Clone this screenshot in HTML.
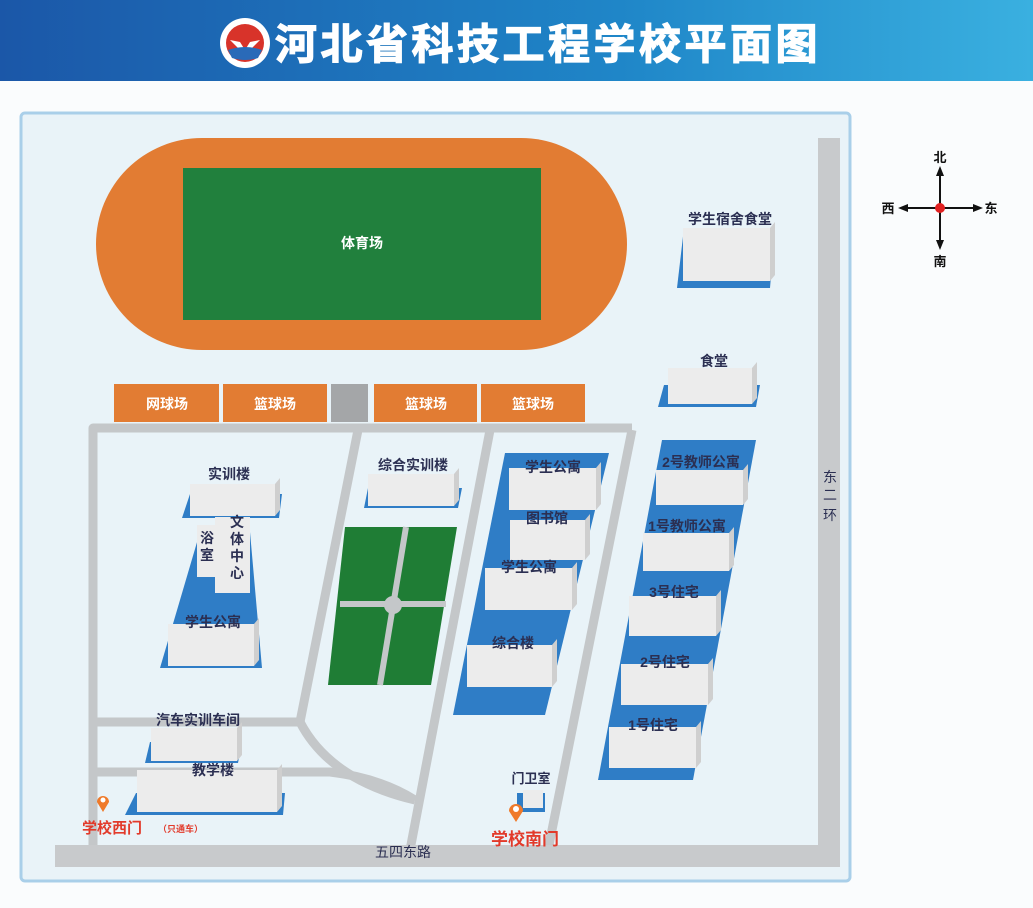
<!DOCTYPE html>
<html><head><meta charset="utf-8"><style>
html,body{margin:0;padding:0;background:#fafcfd;}
svg{display:block}
text{font-family:"Liberation Sans","Noto Sans CJK SC",sans-serif;font-weight:bold}
.l{fill:#2b2f52;font-size:14px}
.w{fill:#fff;font-size:14px}
</style></head><body>
<svg width="1033" height="908" viewBox="0 0 1033 908" xmlns="http://www.w3.org/2000/svg">
<defs>
<linearGradient id="hd" x1="0" x2="1" y1="0" y2="0">
<stop offset="0" stop-color="#1b57a8"/><stop offset="0.6" stop-color="#1f86c8"/><stop offset="1" stop-color="#3ab0e0"/>
</linearGradient>
</defs>
<rect width="1033" height="908" fill="#fafcfd"/>
<rect width="1033" height="81" fill="url(#hd)"/>
<circle cx="245" cy="43" r="25" fill="#fff"/>
<circle cx="245" cy="43" r="19" fill="#d8332a"/>
<path d="M230 40 L245 55 L260 40 L250 42 L245 50 L240 42Z" fill="#fff"/>
<path d="M228 50 Q245 44 262 50 L258 58 Q245 62 232 58Z" fill="#2a6ab8"/>
<text x="275" y="59" style="font-size:42px;fill:#fff;letter-spacing:3.5px" stroke="#fff" stroke-width="1.2">河北省科技工程学校平面图</text>

<rect x="21" y="113" width="829" height="768" rx="4" fill="#e9f3f8" stroke="#a9cfe9" stroke-width="3"/>

<!-- track -->
<rect x="96" y="138" width="531" height="212" rx="106" fill="#e27c33"/>
<rect x="183" y="168" width="358" height="152" fill="#21803d"/>
<text x="362" y="248" class="w" text-anchor="middle">体育场</text>

<!-- courts -->
<rect x="114" y="384" width="105" height="38" fill="#e27c33"/>
<rect x="223" y="384" width="104" height="38" fill="#e27c33"/>
<rect x="331" y="384" width="37" height="38" fill="#a4a6a8"/>
<rect x="374" y="384" width="103" height="38" fill="#e27c33"/>
<rect x="481" y="384" width="104" height="38" fill="#e27c33"/>
<text x="167" y="409" class="w" text-anchor="middle">网球场</text>
<text x="275" y="409" class="w" text-anchor="middle">篮球场</text>
<text x="426" y="409" class="w" text-anchor="middle">篮球场</text>
<text x="533" y="409" class="w" text-anchor="middle">篮球场</text>

<!-- roads -->
<g fill="none" stroke="#c4c7c9" stroke-width="9" stroke-linejoin="round">
<path d="M93 845 V428 H632"/>
<path d="M358 430 L300 722 H93"/>
<path d="M300 722 Q330 780 415 800"/>
<path d="M93 772 H330 Q380 778 415 800"/>
<path d="M490 430 L410 850"/>
<path d="M632 430 L548 850"/>
</g>
<rect x="55" y="845" width="785" height="22" fill="#c8cacc"/>
<rect x="818" y="138" width="22" height="729" fill="#c8cacc"/>
<text x="830" y="482" class="l" style="font-weight:normal" text-anchor="middle">东</text>
<text x="830" y="500" class="l" style="font-weight:normal" text-anchor="middle">二</text>
<text x="830" y="520" class="l" style="font-weight:normal" text-anchor="middle">环</text>
<text x="403" y="857" class="l" style="font-weight:normal" text-anchor="middle">五四东路</text>

<!-- green sports area -->
<polygon points="345,527 457,527 431,685 328,685" fill="#1f7d35"/>
<line x1="406" y1="527" x2="380" y2="685" stroke="#c4c7c9" stroke-width="6"/>
<line x1="340" y1="604" x2="446" y2="604" stroke="#c4c7c9" stroke-width="6"/>
<circle cx="393" cy="605" r="9" fill="#c4c7c9"/>

<!-- blue bases -->
<g fill="#2f7dc6">
<polygon points="190,494 282,494 279,518 182,518"/>
<polygon points="200,532 250,532 262,668 160,668"/>
<polygon points="150,742 242,742 238,763 145,763"/>
<polygon points="136,793 285,793 283,815 125,815"/>
<polygon points="368,488 462,488 458,508 364,508"/>
<polygon points="505,453 609,453 545,715 453,715"/>
<polygon points="662,440 756,440 693,780 598,780"/>
<polygon points="684,228 775,228 770,288 677,288"/>
<polygon points="664,385 760,385 756,407 658,407"/>
<polygon points="517,793 545,793 545,812 517,812"/>
</g>

<!-- buildings -->
<g fill="#ececec">
<rect x="190" y="484" width="85" height="32"/>
<rect x="215" y="517" width="35" height="76"/>
<rect x="197" y="525" width="18" height="52"/>
<rect x="168" y="624" width="86" height="42"/>
<rect x="151" y="728" width="86" height="33"/>
<rect x="137" y="770" width="140" height="42"/>
<rect x="368" y="474" width="86" height="32"/>
<rect x="509" y="468" width="87" height="42"/>
<rect x="510" y="520" width="75" height="40"/>
<rect x="485" y="568" width="87" height="42"/>
<rect x="467" y="645" width="85" height="42"/>
<rect x="656" y="470" width="87" height="35"/>
<rect x="643" y="533" width="86" height="38"/>
<rect x="629" y="596" width="87" height="40"/>
<rect x="621" y="664" width="87" height="41"/>
<rect x="609" y="727" width="87" height="41"/>
<rect x="683" y="228" width="87" height="53"/>
<rect x="668" y="368" width="84" height="36"/>
<rect x="523" y="790" width="20" height="18"/>
</g>
<g fill="#cfcfcf">
<polygon points="275,484 280,478 280,510 275,516"/>
<polygon points="254,624 259,618 259,660 254,666"/>
<polygon points="237,728 242,722 242,755 237,761"/>
<polygon points="277,770 282,764 282,806 277,812"/>
<polygon points="454,474 459,468 459,500 454,506"/>
<polygon points="596,468 601,462 601,504 596,510"/>
<polygon points="585,520 590,514 590,554 585,560"/>
<polygon points="572,568 577,562 577,604 572,610"/>
<polygon points="552,645 557,639 557,681 552,687"/>
<polygon points="743,470 748,464 748,499 743,505"/>
<polygon points="729,533 734,527 734,565 729,571"/>
<polygon points="716,596 721,590 721,630 716,636"/>
<polygon points="708,664 713,658 713,699 708,705"/>
<polygon points="696,727 701,721 701,762 696,768"/>
<polygon points="770,228 775,222 775,275 770,281"/>
<polygon points="752,368 757,362 757,398 752,404"/>
</g>

<!-- labels -->
<text x="229" y="479" class="l" text-anchor="middle">实训楼</text>
<text x="237" y="527" class="l" text-anchor="middle">文</text>
<text x="237" y="544" class="l" text-anchor="middle">体</text>
<text x="237" y="561" class="l" text-anchor="middle">中</text>
<text x="237" y="578" class="l" text-anchor="middle">心</text>
<text x="207" y="543" class="l" text-anchor="middle">浴</text>
<text x="207" y="560" class="l" text-anchor="middle">室</text>
<text x="213" y="627" class="l" text-anchor="middle">学生公寓</text>
<text x="198" y="725" class="l" text-anchor="middle">汽车实训车间</text>
<text x="213" y="775" class="l" text-anchor="middle">教学楼</text>
<text x="413" y="470" class="l" text-anchor="middle">综合实训楼</text>
<text x="553" y="472" class="l" text-anchor="middle">学生公寓</text>
<text x="547" y="523" class="l" text-anchor="middle">图书馆</text>
<text x="529" y="572" class="l" text-anchor="middle">学生公寓</text>
<text x="513" y="648" class="l" text-anchor="middle">综合楼</text>
<text x="701" y="467" class="l" text-anchor="middle">2号教师公寓</text>
<text x="687" y="531" class="l" text-anchor="middle">1号教师公寓</text>
<text x="674" y="597" class="l" text-anchor="middle">3号住宅</text>
<text x="665" y="667" class="l" text-anchor="middle">2号住宅</text>
<text x="653" y="730" class="l" text-anchor="middle">1号住宅</text>
<text x="730" y="224" class="l" text-anchor="middle">学生宿舍食堂</text>
<text x="714" y="366" class="l" text-anchor="middle">食堂</text>
<text x="531" y="783" class="l" text-anchor="middle" style="font-size:13px">门卫室</text>

<!-- pins -->
<path d="M103 812 L97 802 A6 6 0 1 1 109 802 Z" fill="#ef7a2a"/>
<circle cx="103" cy="800" r="2.5" fill="#fff"/>
<text x="82" y="833" style="fill:#e23a2a;font-size:15px">学校西门</text>
<text x="158" y="832" style="fill:#e23a2a;font-size:9px">（只通车）</text>
<path d="M516 822 L509 811 A7 7 0 1 1 523 811 Z" fill="#ef7a2a"/>
<circle cx="516" cy="809" r="3" fill="#fff"/>
<text x="491" y="845" style="fill:#e23a2a;font-size:17px">学校南门</text>

<!-- compass -->
<g stroke="#111" stroke-width="2" fill="#111">
<line x1="940" y1="172" x2="940" y2="245"/>
<line x1="903" y1="208" x2="978" y2="208"/>
<polygon points="940,166 936,176 944,176" stroke="none"/>
<polygon points="940,250 936,240 944,240" stroke="none"/>
<polygon points="898,208 908,204 908,212" stroke="none"/>
<polygon points="983,208 973,204 973,212" stroke="none"/>
</g>
<circle cx="940" cy="208" r="5" fill="#e02020"/>
<text x="940" y="162" class="l" style="fill:#111;font-size:13px" text-anchor="middle">北</text>
<text x="940" y="266" class="l" style="fill:#111;font-size:13px" text-anchor="middle">南</text>
<text x="888" y="213" class="l" style="fill:#111;font-size:13px" text-anchor="middle">西</text>
<text x="991" y="213" class="l" style="fill:#111;font-size:13px" text-anchor="middle">东</text>
</svg>
</body></html>
